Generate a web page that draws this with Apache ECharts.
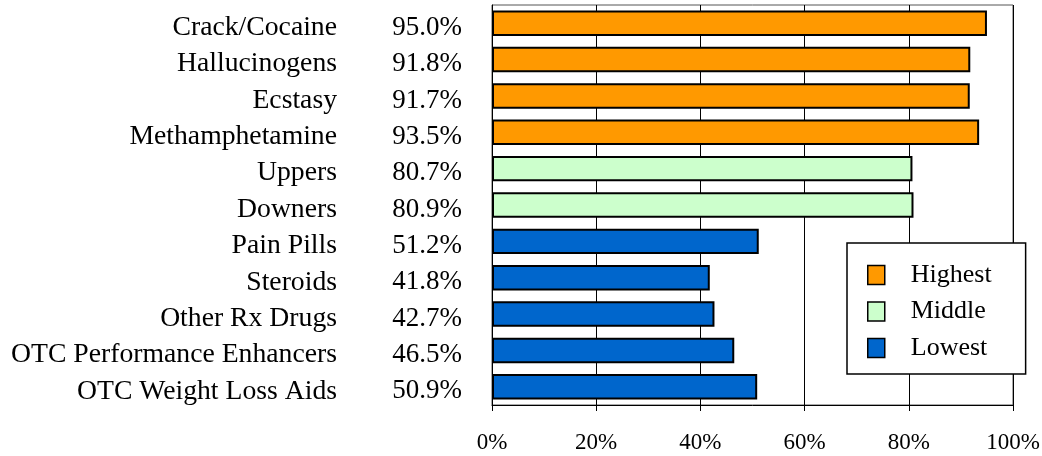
<!DOCTYPE html>
<html>
<head>
<meta charset="utf-8">
<script src="https://cdn.jsdelivr.net/npm/echarts@6/dist/echarts.min.js"></script>
<style>
  html, body { margin: 0; padding: 0; background: #fff; }
  #chart { width: 1042px; height: 456px; }
</style>
</head>
<body>
<div id="chart"></div>
<script>
// Drug categories, top to bottom
const categories = [
  'Crack/Cocaine', 'Hallucinogens', 'Ecstasy', 'Methamphetamine',
  'Uppers', 'Downers', 'Pain Pills', 'Steroids', 'Other Rx Drugs',
  'OTC Performance Enhancers', 'OTC Weight Loss Aids'
];
// Percent per category
const values = [95.0, 91.8, 91.7, 93.5, 80.7, 80.9, 51.2, 41.8, 42.7, 46.5, 50.9];
// Group of each category
const groups = ['Highest', 'Highest', 'Highest', 'Highest', 'Middle', 'Middle',
  'Lowest', 'Lowest', 'Lowest', 'Lowest', 'Lowest'];
const groupNames = ['Highest', 'Middle', 'Lowest'];
const groupColors = { Highest: '#FF9900', Middle: '#CCFFCC', Lowest: '#0066CC' };
const xTicks = [0, 20, 40, 60, 80, 100];

const FONT = '"Liberation Serif", "Times New Roman", serif';

const series = groupNames.map(g => ({
  name: g,
  type: 'bar',
  stack: 'all',
  barCategoryGap: '30%',
  data: values.map((v, i) => groups[i] === g ? v : '-'),
  itemStyle: { color: groupColors[g], borderColor: '#000', borderWidth: 2 },
  emphasis: { disabled: true }
}));

const chart = echarts.init(document.getElementById('chart'), null, { renderer: 'canvas' });
chart.setOption({
  animation: false,
  backgroundColor: '#fff',
  grid: {
    left: 492, right: 29, top: 5, bottom: 51,
    outerBoundsMode: 'none',
    containLabel: false,
    show: true, borderColor: '#555', borderWidth: 1, backgroundColor: 'transparent'
  },
  xAxis: {
    type: 'value',
    min: xTicks[0], max: xTicks[xTicks.length - 1], interval: 20,
    axisLine: { show: true, lineStyle: { color: '#000', width: 1 } },
    axisTick: { show: true, length: 6, lineStyle: { color: '#000' } },
    splitLine: { show: true, lineStyle: { color: '#000', width: 1 } },
    axisLabel: {
      formatter: (v) => '{t|' + v + '%}',
      rich: { t: { color: '#000', fontFamily: FONT, fontSize: 23 } },
      margin: 26
    }
  },
  yAxis: {
    type: 'category',
    inverse: true,
    data: categories,
    axisLine: { show: true, lineStyle: { color: '#000', width: 1 } },
    axisTick: { show: false },
    splitLine: { show: false },
    axisLabel: {
      margin: 30,
      formatter: (name, idx) => '{n|' + name + '}{v|' + values[idx].toFixed(1) + '%}',
      rich: {
        n: { width: 330, align: 'right', color: '#000', fontFamily: FONT, fontSize: 27.7, padding: [9, 0, 0, 0] },
        v: { width: 125, align: 'right', color: '#000', fontFamily: FONT, fontSize: 27, padding: [9, 0, 0, 0] }
      }
    }
  },
  legend: {
    orient: 'vertical',
    left: 847, top: 243,
    padding: [19, 34, 13, 20],
    itemGap: 10.5,
    itemWidth: 17, itemHeight: 19,
    icon: 'rect',
    borderColor: '#000', borderWidth: 1.5, backgroundColor: '#fff',
    data: groupNames,
    itemStyle: { borderColor: '#000', borderWidth: 1.5 },
    textStyle: { color: '#000', fontFamily: FONT, fontSize: 26, lineHeight: 26, padding: [0, 0, 0, 21] },
    selectedMode: false
  },
  series: series
});
</script>
</body>
</html>
